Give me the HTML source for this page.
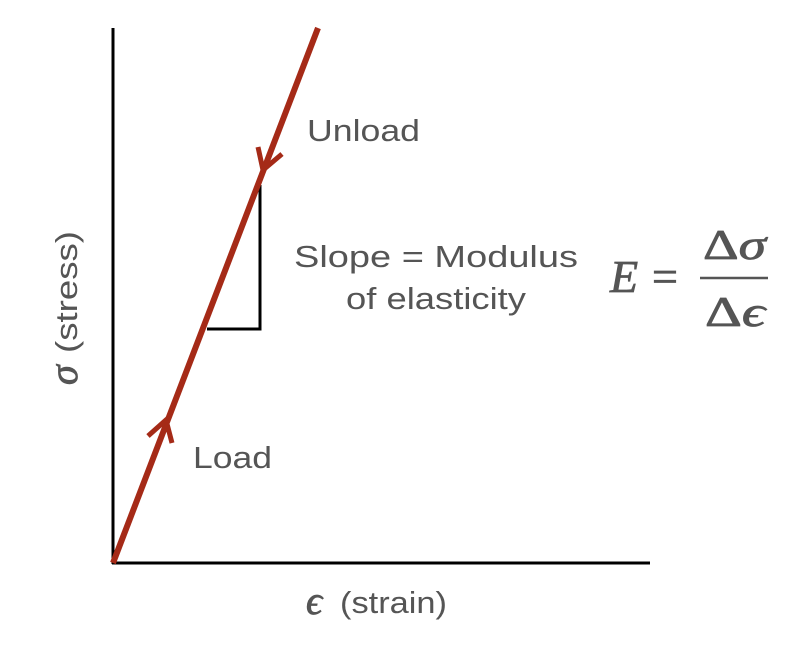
<!DOCTYPE html>
<html><head><meta charset="utf-8"><style>
html,body{margin:0;padding:0;background:#fff;}
svg{display:block}
.t{font-family:"Liberation Sans",sans-serif;fill:#555;font-size:31px}
.m{font-family:"Liberation Serif","DejaVu Serif",serif;fill:#555;stroke:#555;stroke-width:0.8}
</style></head><body>
<svg width="806" height="662" viewBox="0 0 806 662">
<line x1="113" y1="28" x2="113" y2="564" stroke="#000" stroke-width="3"/>
<line x1="112" y1="563" x2="650" y2="563" stroke="#000" stroke-width="3"/>
<polyline points="260,185 260,329 207,329" fill="none" stroke="#000" stroke-width="3"/>
<line x1="113" y1="563" x2="318" y2="28" stroke="#a52a17" stroke-width="6"/>
<polyline points="258,147 263,170 282,154" fill="none" stroke="#a52a17" stroke-width="5"/>
<polyline points="148,436 166,420 172,443" fill="none" stroke="#a52a17" stroke-width="5"/>
<text class="t" x="307" y="141" textLength="113" lengthAdjust="spacingAndGlyphs">Unload</text>
<text class="t" x="193" y="468" textLength="79" lengthAdjust="spacingAndGlyphs">Load</text>
<text class="t" x="294" y="267" textLength="284" lengthAdjust="spacingAndGlyphs">Slope  = Modulus</text>
<text class="t" x="346" y="309" textLength="180" lengthAdjust="spacingAndGlyphs">of elasticity</text>
<text class="m" x="306" y="614" font-style="italic" font-size="40">ϵ</text>
<text class="t" x="340" y="613" textLength="107" lengthAdjust="spacingAndGlyphs">(strain)</text>
<g transform="translate(77,385) rotate(-90)">
<text class="m" x="0" y="0" font-style="italic" font-size="40">σ</text>
<text class="t" x="32" y="0" textLength="122" lengthAdjust="spacingAndGlyphs">(stress)</text>
</g>
<text class="m" x="610" y="292" font-size="46" font-style="italic">E</text>
<text class="m" x="652" y="292" font-size="46">=</text>
<text class="m" x="703" y="259" font-size="42" textLength="63" lengthAdjust="spacingAndGlyphs">Δ<tspan font-style="italic">σ</tspan></text>
<line x1="700" y1="278" x2="768" y2="278" stroke="#555" stroke-width="2.5"/>
<text class="m" x="705" y="326" font-size="42" textLength="60" lengthAdjust="spacingAndGlyphs">Δ<tspan font-style="italic">ϵ</tspan></text>
</svg>
</body></html>
